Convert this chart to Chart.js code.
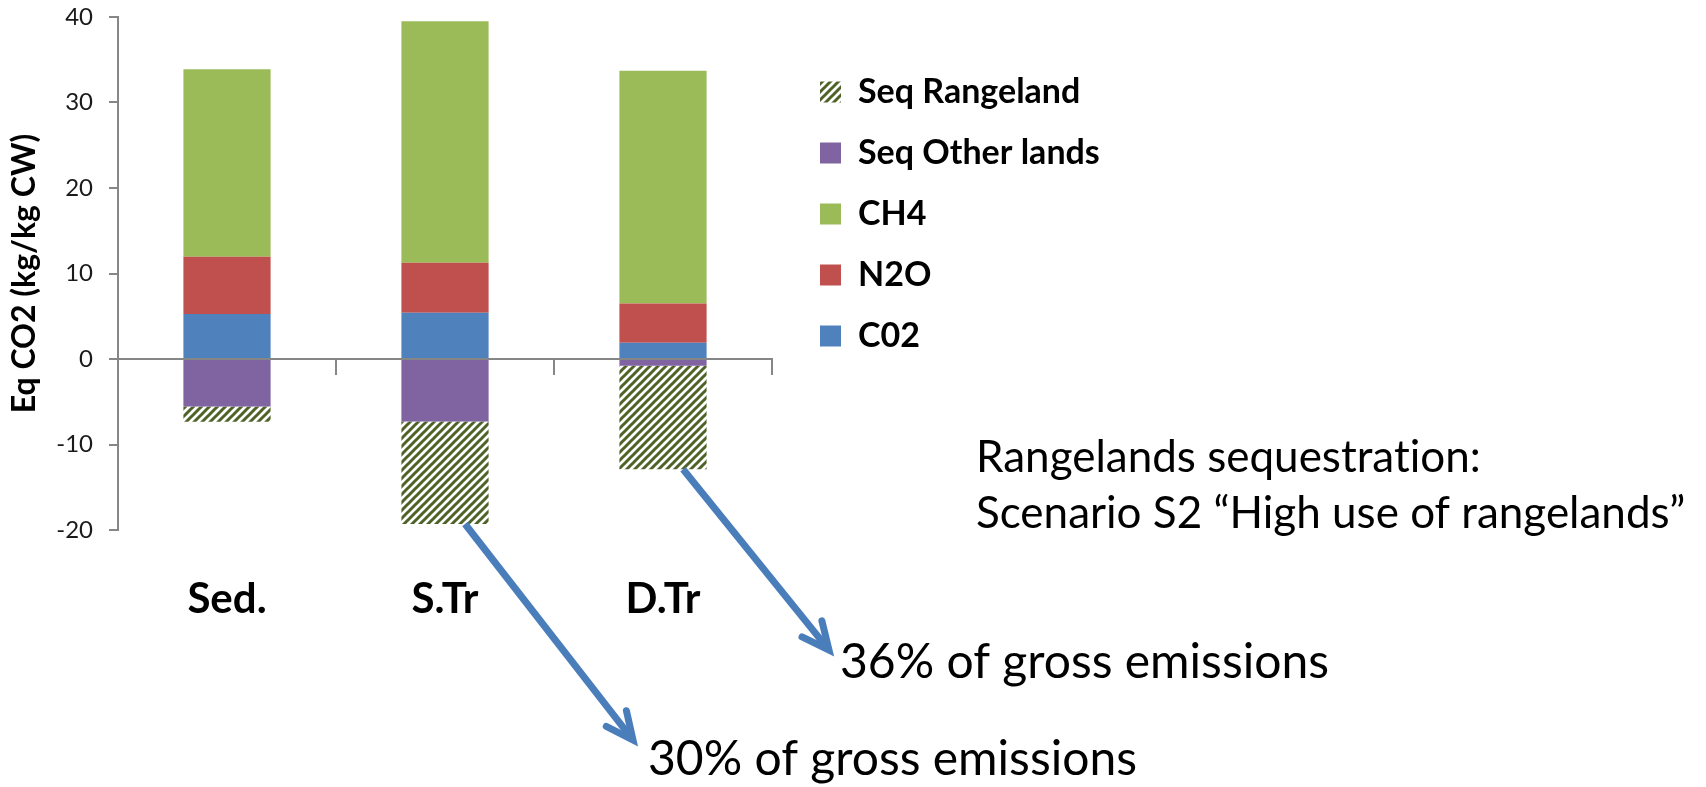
<!DOCTYPE html>
<html>
<head>
<meta charset="utf-8">
<title>Eq CO2 per kg CW</title>
<script src="https://cdn.jsdelivr.net/npm/chart.js@4.4.1/dist/chart.umd.min.js"></script>
<style>
  html, body { margin: 0; padding: 0; background: #fff; }
  #wrap { position: relative; width: 1706px; height: 787px; }
</style>
</head>
<body>
<div id="wrap"><canvas id="chart-bars"></canvas></div>
<script>
// systems
const categories = ['Sed.', 'S.Tr', 'D.Tr'];

// emissions (positive) and sequestration (negative), kg eq CO2 / kg CW
const co2 = [5.25, 5.4, 1.9];
const n2o = [6.7, 5.85, 4.6];
const ch4 = [21.95, 28.25, 27.2];
const seqOtherLands = [-5.55, -7.3, -0.8];
const seqRangeland = [-1.8, -12.0, -12.1];

const yTicks = [-20, -10, 0, 10, 20, 30, 40];

const scenarioNote = ['Rangelands sequestration:', 'Scenario S2 \u201cHigh use of rangelands\u201d'];
// share of gross emissions, per system (only the transhumant ones get a callout)
const shareNotes = [null, '30% of gross emissions', '36% of gross emissions'];

const FONT = 'Lato';
const axisGray = '#868686';
Chart.defaults.font.family = FONT;

// olive "/" hatch used for the rangeland segments
function hatch(color) {
  const tile = document.createElement('canvas');
  tile.width = tile.height = 8;
  const c = tile.getContext('2d');
  c.fillStyle = '#fff';
  c.fillRect(0, 0, 8, 8);
  c.strokeStyle = color;
  c.lineWidth = 3;
  c.beginPath();
  c.moveTo(-2, 10); c.lineTo(10, -2);
  c.moveTo(-2, 2); c.lineTo(2, -2);
  c.moveTo(6, 10); c.lineTo(10, 6);
  c.stroke();
  return c.createPattern(tile, 'repeat');
}

function drawArrow(ctx, x0, y0, x1, y1) {
  const a = Math.atan2(y1 - y0, x1 - x0);
  const head = 30, spread = 0.44;
  ctx.lineCap = 'butt';
  ctx.beginPath();
  ctx.moveTo(x0, y0);
  ctx.lineTo(x1 - 3 * Math.cos(a), y1 - 3 * Math.sin(a));
  ctx.stroke();
  ctx.lineCap = 'round';
  ctx.lineJoin = 'miter';
  ctx.beginPath();
  ctx.moveTo(x1 - head * Math.cos(a - spread), y1 - head * Math.sin(a - spread));
  ctx.lineTo(x1, y1);
  ctx.lineTo(x1 - head * Math.cos(a + spread), y1 - head * Math.sin(a + spread));
  ctx.stroke();
}

// legend sits to the right of the plot, not inside it
const legendSpot = {
  id: 'legendSpot',
  afterLayout(chart) {
    const lg = chart.legend;
    const w = lg.width, h = lg.height;
    lg.left = 793;
    lg.top = 48;
    lg.right = lg.left + w;
    lg.bottom = lg.top + h;
  }
};

// scenario text + arrows from the bottom of the rangeland segments
const callouts = {
  id: 'callouts',
  afterDraw(chart) {
    const {ctx} = chart;
    const bars = chart.getDatasetMeta(4).data;
    const tips = [null, [633, 740], [829, 650]];
    const textAt = [null, [648, 775], [840, 678]];

    ctx.save();
    ctx.textRendering = 'optimizeSpeed';
    ctx.fillStyle = '#000';
    ctx.textBaseline = 'alphabetic';
    ctx.textAlign = 'left';
    ctx.font = `44px ${FONT}`;
    ctx.fillText(scenarioNote[0], 976, 472);
    ctx.fillText(scenarioNote[1], 976, 528);

    ctx.strokeStyle = '#4a7ebb';
    ctx.lineWidth = 7;
    shareNotes.forEach((note, i) => {
      if (!note) return;
      const bar = bars[i];
      drawArrow(ctx, bar.x + bar.width * 0.23, bar.y, tips[i][0], tips[i][1]);
      ctx.font = `48px ${FONT}`;
      ctx.fillText(note, textAt[i][0], textAt[i][1]);
    });
    ctx.restore();
  }
};

const chart = new Chart(document.getElementById('chart-bars'), {
  type: 'bar',
  data: {
    labels: categories,
    datasets: [
      {label: 'C02', data: co2, backgroundColor: '#4f81bd'},
      {label: 'N2O', data: n2o, backgroundColor: '#c0504d'},
      {label: 'CH4', data: ch4, backgroundColor: '#9bbb59'},
      {label: 'Seq Other lands', data: seqOtherLands, backgroundColor: '#8064a2'},
      {label: 'Seq Rangeland', data: seqRangeland, backgroundColor: hatch('#4f6228')}
    ]
  },
  options: {
    responsive: true,
    maintainAspectRatio: false,
    animation: false,
    datasets: {
      bar: {categoryPercentage: 1, barPercentage: 0.4, borderWidth: 0}
    },
    layout: {padding: {left: 0, top: 17, right: 934, bottom: 0}},
    scales: {
      // the category axis line runs along zero, drawn over the bars
      x: {
        stacked: true,
        position: {y: 0},
        offset: true,
        ticks: {display: false},
        grid: {offset: true, drawOnChartArea: false, drawTicks: true, tickLength: 15, color: axisGray, lineWidth: 2, z: 1},
        border: {color: axisGray, width: 2, z: 1}
      },
      // system names sit well below the plot
      xLabels: {
        type: 'category',
        position: 'bottom',
        offset: true,
        grid: {display: false, drawTicks: false},
        border: {display: false},
        ticks: {font: {size: 42, weight: 'bold'}, color: '#000', padding: 44, maxRotation: 0, autoSkip: false},
        afterFit: (s) => { s.height = 257; }
      },
      y: {
        stacked: true,
        min: yTicks[0],
        max: yTicks[yTicks.length - 1],
        afterBuildTicks: (s) => { s.ticks = yTicks.map(v => ({value: v})); },
        ticks: {font: {size: 24}, color: '#1a1a1a', padding: 16},
        grid: {drawOnChartArea: false, tickLength: 9, color: axisGray, lineWidth: 2},
        border: {color: axisGray, width: 2},
        title: {
          display: true,
          text: 'Eq CO2 (kg/kg CW)',
          font: {size: 32, weight: 'bold'},
          color: '#000',
          padding: {top: 5, bottom: 0}
        },
        // fixed axis width; the layout padding already leaves room for the end labels
        afterFit: (s) => {
          s.width = 118;
          s.paddingTop = 0;
          s.paddingBottom = 0;
        }
      }
    },
    plugins: {
      legend: {
        position: 'chartArea',
        align: 'start',
        reverse: true,
        labels: {font: {size: 34, weight: 'bold'}, color: '#000', boxWidth: 21, boxHeight: 21, padding: 27}
      },
      tooltip: {enabled: false}
    }
  },
  plugins: [legendSpot, callouts]
});
</script>
</body>
</html>
